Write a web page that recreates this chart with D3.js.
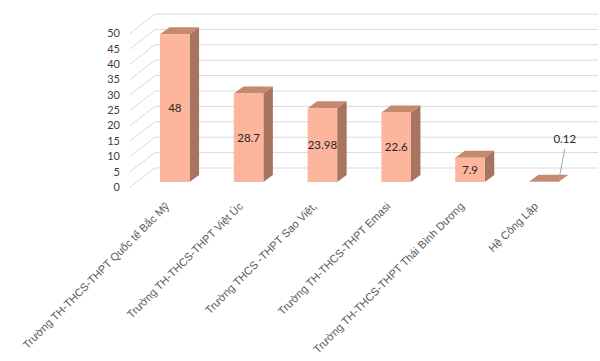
<!DOCTYPE html>
<html>
<head>
<meta charset="utf-8">
<script src="https://cdn.jsdelivr.net/npm/d3@7"></script>
<style>
  body { margin: 0; background: #fff; }
  svg { display: block; }
</style>
</head>
<body>
<script>
var categories = [
  "Trường TH-THCS-THPT Quốc tế Bắc Mỹ",
  "Trường TH-THCS-THPT Việt Úc",
  "Trường THCS -THPT Sao Việt,",
  "Trường TH-THCS-THPT Emasi",
  "Trường TH-THCS-THPT Thái Bình Dương",
  "Hệ Công Lập"
];
var values = [48, 28.7, 23.98, 22.6, 7.9, 0.12];
var valueLabels = ["48", "28.7", "23.98", "22.6", "7.9", "0.12"];
var yTicks = [0, 5, 10, 15, 20, 25, 30, 35, 40, 45, 50];

var width = 600, height = 361;

// 3d offsets
var wallDx = 25, barDx = 9.5, barDy = -7;

var svg = d3.select("body").append("svg")
  .attr("width", width)
  .attr("height", height);

svg.append("rect").attr("width", width).attr("height", height).attr("fill", "#fff");

var x = d3.scaleBand()
  .domain(categories)
  .range([137.9, 580.7])
  .paddingInner(0.6)
  .paddingOuter(0.3);

// front plane (axis labels), back wall, bar plane
var yFront = d3.scaleLinear().domain([0, 50]).range([187, 33.5]);
var yBack = d3.scaleLinear().domain([0, 50]).range([168, 14]);
var yBar = d3.scaleLinear().domain([0, 50]).range([182, 28]);

// gridlines
var grid = svg.append("g");
yTicks.forEach(function (t) {
  grid.append("line")
    .attr("x1", 130).attr("y1", yFront(t))
    .attr("x2", 130 + wallDx).attr("y2", yBack(t))
    .attr("stroke", "#d9d9d9").attr("stroke-width", 1);
  grid.append("line")
    .attr("x1", 130 + wallDx).attr("y1", yBack(t))
    .attr("x2", 598).attr("y2", yBack(t))
    .attr("stroke", "#d9d9d9").attr("stroke-width", 1);
});

// y labels
svg.append("g").selectAll("text")
  .data(yTicks)
  .enter()
  .append("text")
  .text(function (d) { return d; })
  .attr("x", 120)
  .attr("y", function (d) { return yFront(d); })
  .attr("dy", "0.35em")
  .attr("text-anchor", "end")
  .attr("font-family", "Lato, 'Open Sans', sans-serif")
  .attr("font-size", "11px")
  .attr("fill", "#404040");

var data = categories.map(function (c, i) {
  return { cat: c, value: values[i], label: valueLabels[i] };
});

var bw = x.bandwidth();

var bar = svg.append("g").selectAll("g.bar")
  .data(data)
  .enter()
  .append("g")
  .attr("class", "bar");

// side face
bar.append("polygon")
  .attr("points", function (d) {
    var x1 = x(d.cat) + bw, y0 = yBar(0), y1 = yBar(d.value);
    return [[x1, y0], [x1 + barDx, y0 + barDy], [x1 + barDx, y1 + barDy], [x1, y1]].join(" ");
  })
  .attr("fill", "#a8745f");

// top face
bar.append("polygon")
  .attr("points", function (d) {
    var x0 = x(d.cat), y1 = yBar(d.value);
    return [[x0, y1], [x0 + bw, y1], [x0 + bw + barDx, y1 + barDy], [x0 + barDx, y1 + barDy]].join(" ");
  })
  .attr("fill", "#c6896f");

// front face
bar.append("rect")
  .attr("x", function (d) { return x(d.cat); })
  .attr("y", function (d) { return yBar(d.value); })
  .attr("width", bw)
  .attr("height", function (d) { return yBar(0) - yBar(d.value); })
  .attr("fill", "#fdb59d");

// value labels
bar.each(function (d) {
  var g = d3.select(this);
  var cx = x(d.cat) + bw / 2;
  var h = yBar(0) - yBar(d.value);
  if (h > 12) {
    g.append("text")
      .text(d.label)
      .attr("x", cx)
      .attr("y", (yBar(0) + yBar(d.value)) / 2)
      .attr("dy", "0.35em")
      .attr("text-anchor", "middle")
      .attr("font-family", "Lato, 'Open Sans', sans-serif")
      .attr("font-size", "11.5px")
      .attr("fill", "#262626");
  } else {
    var lx = cx + 21, ly = yBar(d.value) - 43;
    g.append("line")
      .attr("x1", lx).attr("y1", ly + 10)
      .attr("x2", x(d.cat) + bw).attr("y2", yBar(d.value))
      .attr("stroke", "#a6a6a6").attr("stroke-width", 1);
    g.append("text")
      .text(d.label)
      .attr("x", lx)
      .attr("y", ly)
      .attr("dy", "0.35em")
      .attr("text-anchor", "middle")
      .attr("font-family", "Lato, 'Open Sans', sans-serif")
      .attr("font-size", "11.5px")
      .attr("fill", "#262626");
  }
});

// category labels
svg.append("g").selectAll("text")
  .data(categories)
  .enter()
  .append("text")
  .text(function (d) { return d; })
  .attr("transform", function (d) {
    var px = x(d) + bw / 2 - 5;
    return "translate(" + px + "," + 207 + ") rotate(-45)";
  })
  .attr("text-anchor", "end")
  .attr("font-family", "'Liberation Sans', Arial, sans-serif")
  .attr("font-size", "11px")
  .attr("fill", "#595959");
</script>
</body>
</html>
